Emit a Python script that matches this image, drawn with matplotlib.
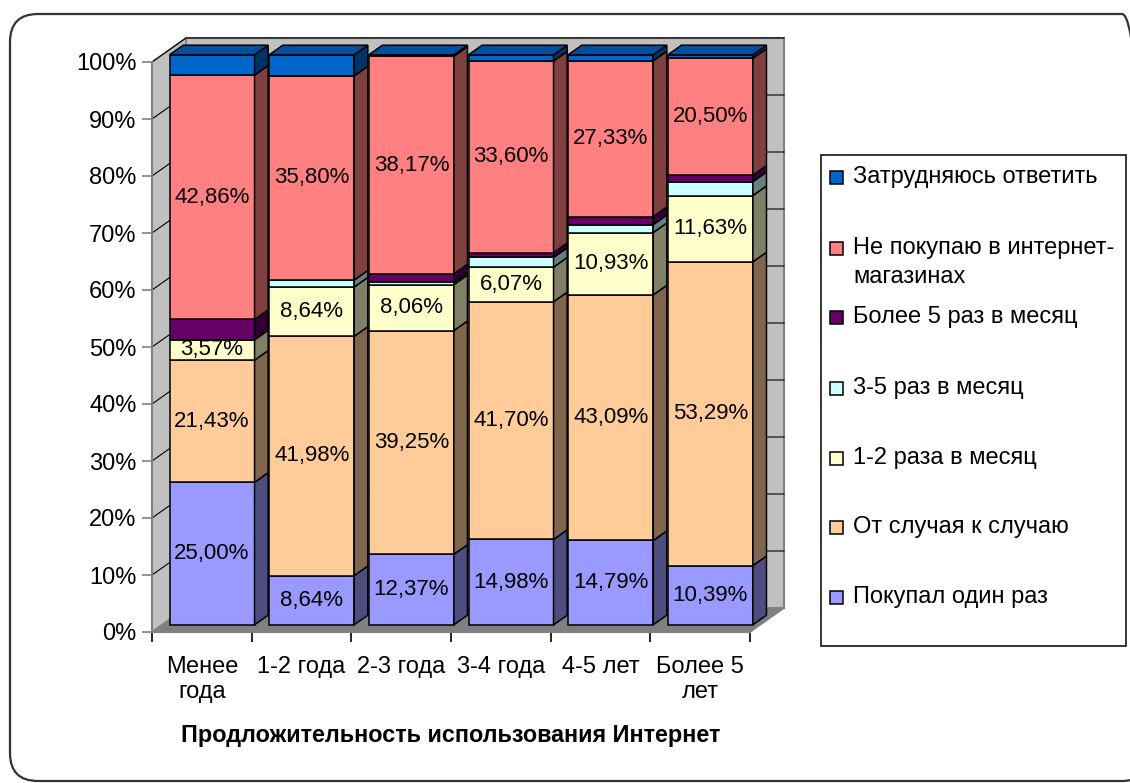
import matplotlib
matplotlib.use("Agg")
import matplotlib.pyplot as plt
from matplotlib.patches import Polygon, Rectangle, FancyBboxPatch
from matplotlib.transforms import IdentityTransform
from matplotlib.colors import to_rgb

plt.rcParams['font.family'] = ['Liberation Sans', 'DejaVu Sans']

# categories (duration of internet use)
categories = ["Менее\nгода", "1-2 года", "2-3 года", "3-4 года", "4-5 лет", "Более 5\nлет"]

# series, bottom to top (percent)
one_time = [25.00, 8.64, 12.37, 14.98, 14.79, 10.39]
sometimes = [21.43, 41.98, 39.25, 41.70, 43.09, 53.29]
m1_2 = [3.57, 8.64, 8.06, 6.07, 10.93, 11.63]
m3_5 = [0.00, 1.23, 0.40, 1.70, 1.40, 2.44]
m5plus = [3.57, 0.00, 1.50, 0.85, 1.40, 1.15]
not_buy = [42.86, 35.80, 38.17, 33.60, 27.33, 20.50]
hard = [3.57, 3.71, 0.25, 1.10, 1.06, 0.60]

series_names = ["Покупал один раз", "От случая к случаю", "1-2 раза в месяц",
                "3-5 раз в месяц", "Более 5 раз в месяц",
                "Не покупаю в интернет-\nмагазинах", "Затрудняюсь ответить"]
series_values = [one_time, sometimes, m1_2, m3_5, m5plus, not_buy, hard]
series_colors = ["#9999FF", "#FFCC99", "#FFFFCC", "#CCFFFF", "#660066", "#FF8080", "#0066CC"]
labeled = [True, True, True, False, False, True, False]

W, H = 1130, 783
fig = plt.figure(figsize=(W / 100, H / 100), dpi=100)

# axes = front plane of the 3D box
ax = fig.add_axes([152 / W, 1 - 632 / H, 598 / W, 570 / H])
ax.set_xlim(-0.5, 5.5)
ax.set_ylim(0, 100)
for s in ax.spines.values():
    s.set_visible(False)

DX = 34 / (598 / 6)   # depth offset in category units
DY = 24 / 5.7         # depth offset in percent units
tf, tb = 0.3, 0.7     # bar front / back depth fraction
bw = 0.853


def P(x, y, t):
    return (x + DX * t, y + DY * t)


def shade(c, k):
    r, g, b = to_rgb(c)
    return (r * k, g * k, b * k)


def poly(pts, fc, ec='black', lw=1.1, z=3):
    ax.add_patch(Polygon(pts, closed=True, facecolor=fc, edgecolor=ec, lw=lw,
                         joinstyle='miter', clip_on=False, zorder=z))


x0, x1 = -0.5, 5.5
# back wall
poly([P(x0, 0, 1), P(x1, 0, 1), P(x1, 100, 1), P(x0, 100, 1)], "#C0C0C0", ec="#808080", lw=1.5, z=1)
# left wall
poly([P(x0, 0, 0), P(x0, 0, 1), P(x0, 100, 1), P(x0, 100, 0)], "#C0C0C0", ec="#808080", lw=1.2, z=1)
# floor
poly([P(x0, 0, 0), P(x1, 0, 0), P(x1, 0, 1), P(x0, 0, 1)], "#808080", ec="#808080", lw=1.2, z=1.5)

# gridlines
for g in range(10, 101, 10):
    xs, ys = zip(P(x0, g, 0), P(x0, g, 1), P(x1, g, 1))
    ax.plot(xs, ys, color='black', lw=0.8, zorder=1.2, clip_on=False)
ax.plot([x0, x0], [0, 100], color="#808080", lw=1.5, zorder=1.3, clip_on=False)
ax.plot([x0, x1], [0, 0], color="#808080", lw=1.5, zorder=1.6, clip_on=False)

# bars
for i in range(len(categories)):
    xl, xr = i - bw / 2, i + bw / 2
    base = 0.0
    tops = [k for k, v in enumerate(series_values) if v[i] > 0]
    for k, vals in enumerate(series_values):
        v = vals[i]
        if v <= 0:
            continue
        y0, y1 = base, base + v
        c = series_colors[k]
        poly([P(xl, y0, tf), P(xr, y0, tf), P(xr, y1, tf), P(xl, y1, tf)], c)
        poly([P(xr, y0, tf), P(xr, y0, tb), P(xr, y1, tb), P(xr, y1, tf)], shade(c, 0.5))
        if k == tops[-1]:
            poly([P(xl, y1, tf), P(xr, y1, tf), P(xr, y1, tb), P(xl, y1, tb)], shade(c, 0.78))
        if labeled[k]:
            lx, ly = P(i, (y0 + y1) / 2, tf)
            ax.text(lx, ly, f"{v:.2f}%".replace('.', ','), ha='center', va='center',
                    fontsize=16, zorder=5)
        base = y1

# axes ticks
ax.set_yticks(range(0, 101, 10))
ax.set_yticklabels([f"{v}%" for v in range(0, 101, 10)])
ax.tick_params(axis='y', length=7, width=1.2, color="#808080", labelsize=17, pad=4)
ax.set_xticks([i - 0.5 for i in range(len(categories) + 1)])
ax.set_xticklabels([])
ax.set_xticks(range(len(categories)), minor=True)
ax.set_xticklabels(categories, minor=True, fontsize=17, linespacing=1.2)
ax.tick_params(axis='x', which='major', length=7, width=1.2, color="black")
ax.tick_params(axis='x', which='minor', length=0, pad=17)
ax.set_xlabel("Продложительность использования Интернет", fontsize=16.8, fontweight='bold',
              labelpad=15)

# legend (manual, Excel-like spacing)
fig.add_artist(Rectangle((821 / W, 1 - 646 / H), (1126 - 821) / W, (646 - 155) / H,
                         transform=fig.transFigure, facecolor='white', edgecolor='black', lw=1.1))
leg_y = [597, 527, 458, 388, 317, 248, 177]
line_px = 29
for name, c, yy in zip(series_names, series_colors, leg_y):
    fig.add_artist(Rectangle((830 / W, 1 - (yy + 6.5) / H), 13 / W, 13 / H,
                             transform=fig.transFigure, facecolor=c, edgecolor='black', lw=1.1))
    nl = name.count("\n")
    fig.text(853 / W, 1 - (yy + nl * line_px / 2) / H, name, ha='left', va='center',
             fontsize=17, linespacing=1.4)

# rounded outer frame
fig.add_artist(FancyBboxPatch((10, 2), 1140, 767, boxstyle="round,pad=0,rounding_size=28",
                              transform=IdentityTransform(), facecolor='none',
                              edgecolor='#333333', lw=1.6))

fig.savefig("out.png", dpi=100)
